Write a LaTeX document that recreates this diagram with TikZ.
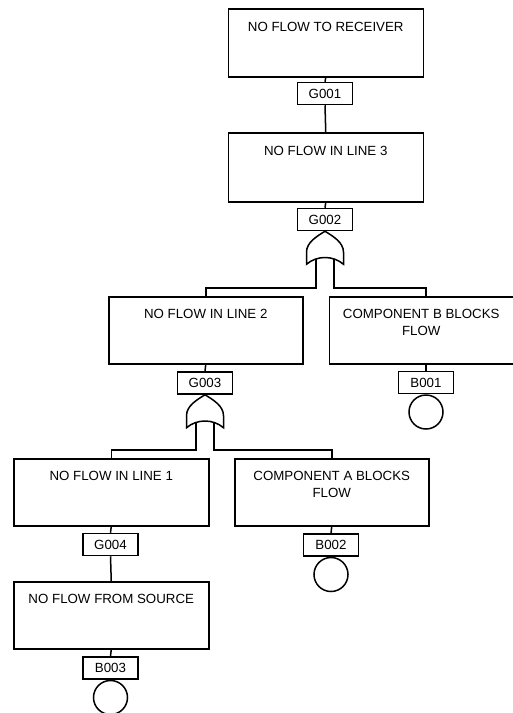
\documentclass[tikz,border=0pt]{standalone}
\usepackage{fontspec}
\setmainfont{Liberation Sans}
\usetikzlibrary{calc}
\newcommand{\evtext}[1]{\parbox[c][67pt][t]{180pt}{\fontsize{13.3}{17}\selectfont\vspace*{12.5pt}\centering #1\par}}
\begin{document}
\begin{tikzpicture}[x=1pt,y=-1pt, line width=1.5pt,
  evbox/.style={draw, anchor=north west, inner sep=0pt, minimum width=195pt, minimum height=67pt},
  tag/.style={draw, inner sep=0pt, minimum width=55pt, minimum height=22pt, font=\fontsize{13.3}{15}\selectfont},
  basic/.style={draw, circle, inner sep=0pt, minimum size=34pt, anchor=north},
  orgate/.pic={
    \draw[fill=white] (-18.5,33) -- (-18.5,21) .. controls (-18.5,11) and (-8,5) .. (0,0)
      .. controls (8,5) and (18.5,11) .. (18.5,21) -- (18.5,33)
      .. controls (8,24) and (-8,24) .. cycle;
  }]
\useasboundingbox (0,0) rectangle (513,713);

% events
\node[evbox, minimum height=68pt] (rcv) at (227.5,8) {\evtext{NO FLOW TO RECEIVER}};
\node[tag] (g001) at (325,93.5) {G001};
\node[evbox, minimum height=69pt] (l3) at (227.5,132) {\evtext{NO FLOW IN LINE 3}};
\node[tag] (g002) at (325,219.5) {G002};

\node[evbox, minimum width=194pt] (l2) at (108,296) {\evtext{NO FLOW IN LINE 2}};
\node[evbox, minimum width=184pt, minimum height=66pt] (cb) at (328.5,296) {\evtext{COMPONENT B BLOCKS\\FLOW}};
\node[tag] (g003) at (205,383) {G003};
\node[tag] (b001) at (426,382.5) {B001};
\node[basic] (c001) at (b001.south) {};

\node[evbox] (l1) at (13,458) {\evtext{NO FLOW IN LINE 1}};
\node[evbox, minimum width=194pt] (ca) at (234,458) {\evtext{COMPONENT A BLOCKS\\FLOW}};
\node[tag] (g004) at (110.5,544.5) {G004};
\node[tag] (b002) at (331,545) {B002};
\node[basic] (c002) at (b002.south) {};

\node[evbox] (src) at (13,581) {\evtext{NO FLOW FROM SOURCE}};
\node[tag] (b003) at (110.5,668) {B003};
\node[basic] (c003) at (b003.south) {};

% straight connectors
\draw (rcv.south) -- (g001.north);
\draw (g001.south) -- (l3.north);
\draw (l3.south) -- (g002.north);
\draw (l2.south) -- (g003.north);
\draw (b001.north |- cb.south) -- (b001.north);
\draw (l1.south) -- (g004.north);
\draw (g004.south) -- (src.north);
\draw (src.south) -- (b003.north);
\draw (ca.south) -- (b002.north);

% OR gate 1
\coordinate (g1l) at ($(g002.south)+(-9,26)$);
\coordinate (g1r) at ($(g002.south)+(9,26)$);
\coordinate (cbin) at (b001.north |- cb.north);
\draw (g1l) |- ($(l2.north)+(0,-8)$) -- (l2.north);
\draw (g1r) |- ($(cbin)+(0,-8)$) -- (cbin);
\pic at (g002.south) {orgate};

% OR gate 2
\coordinate (g2l) at ($(g003.south)+(-9,26)$);
\coordinate (g2r) at ($(g003.south)+(9,26)$);
\draw (g2l) |- ($(l1.north)+(0,-8)$) -- (l1.north);
\draw (g2r) |- ($(ca.north)+(0,-8)$) -- (ca.north);
\pic at (g003.south) {orgate};
\end{tikzpicture}
\end{document}
